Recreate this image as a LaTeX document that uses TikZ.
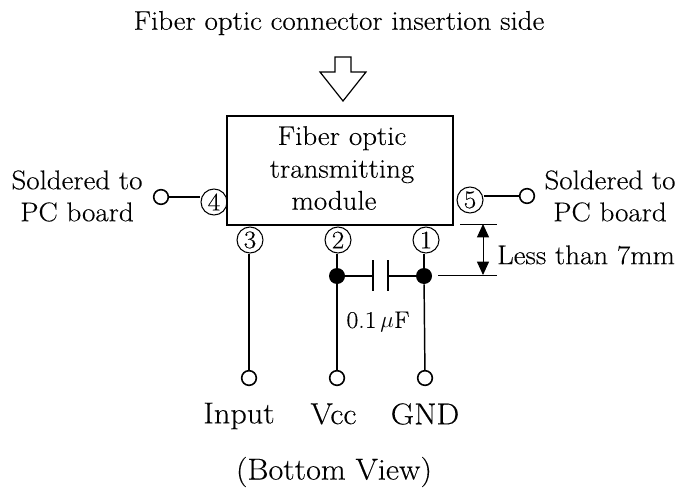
\documentclass[tikz,border=0pt]{standalone}
\usepackage{fontspec}
\setmainfont[FakeStretch=1.07,FakeBold=0.25]{Latin Modern Roman}
\usetikzlibrary{arrows.meta}
\begin{document}
\begin{tikzpicture}[x=0.75pt,y=-0.75pt,
  txt/.style={font=\fontsize{20.3}{24}\selectfont,inner sep=0pt,align=center},
  biglabel/.style={font=\fontsize{22.6}{26}\selectfont,inner sep=0pt,align=center},
  pinnum/.style={circle,draw,line width=0.8pt,minimum size=19.5pt,inner sep=0pt,font=\fontsize{19}{19}\selectfont},
  open/.style={circle,draw,line width=1.2pt,minimum size=11pt,inner sep=0pt,fill=white},
  dot/.style={circle,fill=black,minimum size=12pt,inner sep=0pt},
  wire/.style={line width=1.1pt},
  dimline/.style={line width=0.6pt}]
\useasboundingbox (0,0) rectangle (677,488);
\node[txt] (title) at (339,23) {Fiber optic connector insertion side};
\draw[line width=0.9pt] (335,57)--(351,57)--(351,72)--(366,72)--(343,101)--(320,72)--(335,72)--cycle;
\node[draw,line width=1.2pt,minimum width=169.5pt,minimum height=81.5pt,inner sep=0pt] (box) at (340,170.5) {};
\node[txt,text width=170pt] (mod) at (342,168) {\setlength{\baselineskip}{24.5pt}Fiber optic\\transmitting\\module\rule{12pt}{0pt}};
\node[txt] (sl) at (77,196) {\setlength{\baselineskip}{24pt}Soldered to\\PC board};
\node[txt] (sr) at (610,196) {\setlength{\baselineskip}{24pt}Soldered to\\PC board};
\node[pinnum] (p4) at (214,202) {4};
\node[pinnum] (p5) at (470,200) {5};
\node[pinnum] (p3) at (250,240) {3};
\node[pinnum] (p2) at (338,240) {2};
\node[pinnum] (p1) at (426,240) {1};
\node[open] (ol) at (161,197) {};
\node[open] (or) at (527,196) {};
\draw[wire] (ol)--(p4.west|-ol);
\draw[wire] (p5.east|-or)--(or);
\node[dot] (d2) at (337,276) {};
\node[dot] (d1) at (424,276) {};
\node[open] (o3) at (249,378) {};
\node[open] (o2) at (337,378) {};
\node[open] (o1) at (425,378) {};
\draw[wire] (p3.south-|o3)--(o3);
\draw[wire] (p2.south-|d2)--(d2)--(o2);
\draw[wire] (p1.south-|d1)--(d1);
\draw[wire] (d1)--(o1);
\coordinate (c1) at (373,276);
\coordinate (c2) at (388,276);
\draw[wire] (d2)--(c1) (c2)--(d1);
\draw[wire] (373,260)--(373,291) (388,260)--(388,291);
\node[txt,font=\fontsize{18}{20}\selectfont] (cap) at (378,322) {0.1\,$\mu$F};
\coordinate (a) at (483,224);
\coordinate (b) at (483,275);
\draw[dimline] (460,224)--(497,224);
\draw[dimline] (438,275)--(497,275);
\draw[line width=0.7pt,{Triangle[length=10pt,width=9pt]}-{Triangle[length=10pt,width=9pt]}] (a)--(b);
\node[txt] (lt) at (586,255) {Less than 7mm};
\node[biglabel] (linput) at (239,416) {Input};
\node[biglabel] (lvcc) at (333.5,414) {Vcc};
\node[biglabel] (lgnd) at (425,414) {GND};
\node[biglabel] (lview) at (334,472) {(Bottom View)};
\end{tikzpicture}
\end{document}
